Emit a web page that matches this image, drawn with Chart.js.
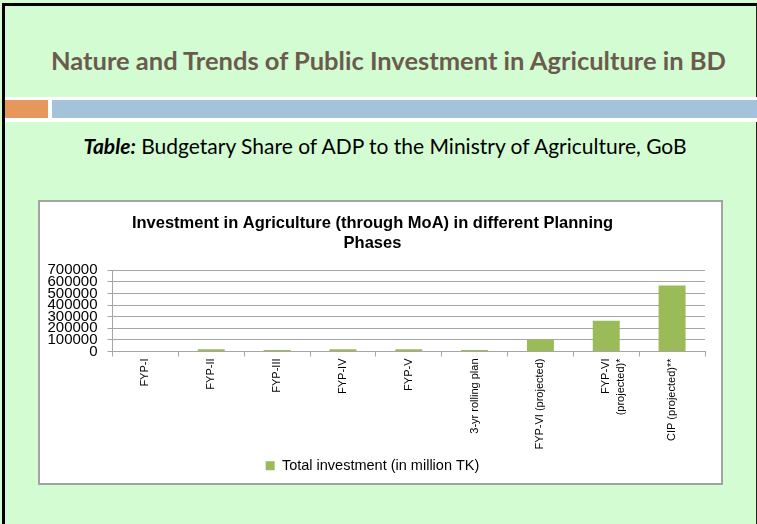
<!DOCTYPE html>
<html>
<head>
<meta charset="utf-8">
<script src="https://cdn.jsdelivr.net/npm/chart.js@4"></script>
<style>
  html, body { margin: 0; padding: 0; }
  body { width: 757px; height: 524px; position: relative; overflow: hidden; background: #d3fcd3; }
  /* slide frame */
  #frame { position: absolute; left: 2px; top: 3px; width: 751px; height: 540px;
           border-left: 3px solid #000; border-top: 3px solid #000; border-right: 2px solid #222; }
  #slideTitle { position: absolute; left: 0; width: 777px; top: 45px; text-align: center;
                font: bold 25.5px Lato, "DejaVu Sans", sans-serif; color: #6b5b4e; white-space: nowrap; }
  #bandWhite { position: absolute; left: 5px; top: 97px; width: 752px; height: 25px; background: #fff; }
  #bandOrange { position: absolute; left: 5px; top: 100px; width: 43px; height: 18px; background: #e6975c; }
  #bandBlue { position: absolute; left: 52px; top: 100px; width: 705px; height: 18px; background: #a4c2da; }
  #subTitle { position: absolute; left: 0; width: 770px; top: 133px; text-align: center;
              font: 21px Lato, "DejaVu Sans", sans-serif; color: #000; white-space: nowrap; }
  #chartBox { position: absolute; left: 38px; top: 200px; width: 681px; height: 281px;
              background: #fff; border: 2px solid #a3a3a3; }
  #chartBox canvas { display: block; }
</style>
</head>
<body>
<div id="frame"></div>
<div id="slideTitle">Nature and Trends of Public Investment in Agriculture in BD</div>
<div id="bandWhite"></div>
<div id="bandOrange"></div>
<div id="bandBlue"></div>
<div id="subTitle"><b><i>Table:</i></b> Budgetary Share of ADP to the Ministry of Agriculture, GoB</div>
<div id="chartBox"><canvas id="energyChart" width="681" height="281"></canvas></div>

<script>
/* ===============================
   DATA
================================ */
const phases = [
  "FYP-I", "FYP-II", "FYP-III", "FYP-IV", "FYP-V",
  "3-yr rolling plan", "FYP-VI (projected)",
  ["FYP-VI", "(projected)*"], "CIP (projected)**"
];
const investment = [1500, 20000, 14000, 20000, 20000, 14000, 104000, 266000, 569000];
const yTicks = [0, 100000, 200000, 300000, 400000, 500000, 600000, 700000];

const chartTitle = ["Investment in Agriculture (through MoA) in different Planning", "Phases"];
const seriesName = "Total investment (in million TK)";

/* ===============================
   CHART RENDERING
================================ */
const chart = new Chart(document.getElementById("energyChart"), {
  type: "bar",
  data: {
    labels: phases,
    datasets: [{
      label: seriesName,
      data: investment,
      backgroundColor: "#9bbb59",
      borderWidth: 0,
      barPercentage: 0.41,
      categoryPercentage: 1
    }]
  },
  options: {
    responsive: false,
    animation: false,
    layout: { padding: { left: 0, right: 16, top: 0, bottom: 0 } },
    plugins: {
      title: {
        display: true,
        text: chartTitle,
        color: "#000",
        font: { family: "Liberation Sans", size: 16.5, weight: "bold", lineHeight: 1.22 },
        padding: { top: 11, bottom: 17 }
      },
      legend: {
        position: "bottom",
        labels: {
          color: "#000",
          font: { family: "Liberation Sans", size: 14.5 },
          boxWidth: 9,
          boxHeight: 9,
          padding: 8
        }
      },
      tooltip: { enabled: false }
    },
    scales: {
      y: {
        min: 0,
        max: 700000,
        afterBuildTicks: (s) => { s.ticks = yTicks.map(v => ({ value: v })); },
        afterFit: (s) => { s.width = 72.5; },
        ticks: {
          autoSkip: false,
          color: "#000",
          font: { family: "Liberation Sans", size: 15 },
          padding: 10,
          callback: (v) => String(v)
        },
        grid: { color: "#a6a6a6", tickLength: 5 },
        border: { color: "#a6a6a6" }
      },
      x: {
        afterFit: (s) => { s.height = 99; },
        ticks: {
          autoSkip: false,
          minRotation: 90,
          maxRotation: 90,
          color: "#000",
          font: { family: "'Liberation Sans Narrow', 'Liberation Sans'", size: 11, lineHeight: 1.35 },
          padding: 2
        },
        grid: { offset: true, drawOnChartArea: false, color: "#a6a6a6", tickLength: 5 },
        border: { color: "#a6a6a6" }
      }
    }
  }
});
</script>
</body>
</html>
